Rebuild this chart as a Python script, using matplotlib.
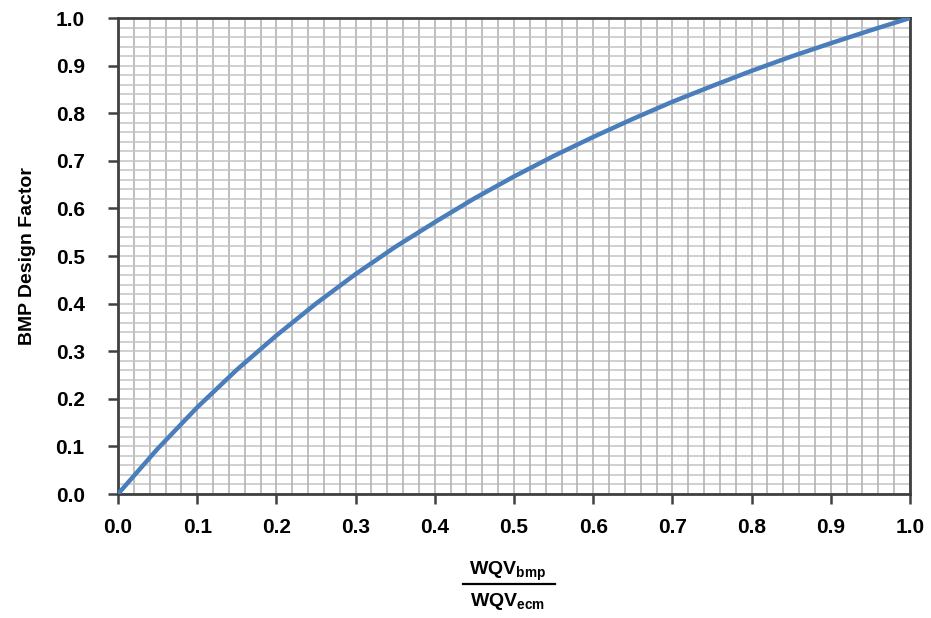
import matplotlib
matplotlib.use("Agg")
import matplotlib.pyplot as plt
from matplotlib.lines import Line2D
import numpy as np

# values
volume_ratio = [0.00, 0.05, 0.10, 0.15, 0.20, 0.25, 0.30, 0.35, 0.40, 0.45, 0.50,
                0.55, 0.60, 0.65, 0.70, 0.75, 0.80, 0.85, 0.90, 0.95, 1.00]
design_factor = [0.000, 0.095, 0.182, 0.261, 0.333, 0.400, 0.462, 0.519, 0.571, 0.621, 0.667,
                 0.710, 0.750, 0.788, 0.824, 0.857, 0.889, 0.919, 0.947, 0.974, 1.000]

major_ticks = np.round(np.arange(0, 1.01, 0.1), 1)
tick_labels = ["%.1f" % t for t in major_ticks]
minor_step = 0.02

plt.rcParams['font.family'] = ['Liberation Sans', 'DejaVu Sans']
plt.rcParams['font.weight'] = 'bold'

fig = plt.figure(figsize=(9.31, 6.18), dpi=100)
ax = fig.add_axes([118 / 931, 1 - 494 / 618, (910 - 118) / 931, (494 - 18) / 618])

grid = np.arange(0, 1.0001, minor_step)
for g in grid:
    ax.axvline(g, color='#b4b4b4', lw=1.2, zorder=1)
    ax.axhline(g, color='#c4c4c4', lw=1.1, zorder=1)

ax.plot(volume_ratio, design_factor, color='#4a7ebb', lw=3.2, zorder=3,
        solid_capstyle='round')

ax.set_xlim(0, 1)
ax.set_ylim(0, 1)
ax.set_xticks(major_ticks)
ax.set_yticks(major_ticks)
ax.set_xticklabels(tick_labels)
ax.set_yticklabels(tick_labels)
ax.tick_params(direction='out', length=7, width=1.8, color='#404040', labelsize=15)
ax.tick_params(axis='y', pad=17)
ax.tick_params(axis='x', pad=10)
for s in ax.spines.values():
    s.set_color('#404040')
    s.set_linewidth(2)

ax.set_ylabel('BMP Design Factor', fontsize=14, fontweight='bold', labelpad=14)

# stacked ratio label under the x axis
fig.text(508 / 931, 1 - 571 / 618, r'WQV$_{\mathregular{bmp}}$', ha='center', va='center',
         fontsize=14, fontweight='bold')
fig.add_artist(Line2D([463 / 931, 555 / 931], [1 - 584 / 618, 1 - 584 / 618],
                      transform=fig.transFigure, color='black', lw=1.6))
fig.text(508 / 931, 1 - 601 / 618, r'WQV$_{\mathregular{ecm}}$', ha='center', va='center',
         fontsize=14, fontweight='bold')

fig.savefig('out.png', dpi=100)
